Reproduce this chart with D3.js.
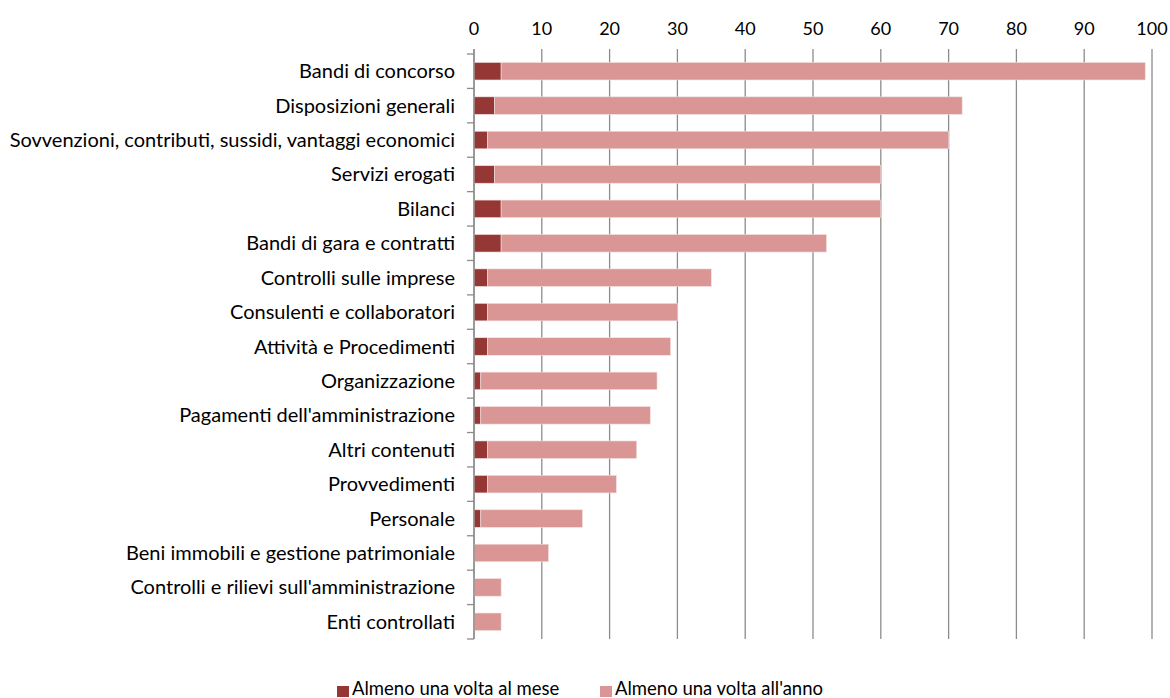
<!DOCTYPE html>
<html>
<head>
<meta charset="utf-8">
<title>Frequenza di aggiornamento</title>
<script src="https://d3js.org/d3.v7.min.js"></script>
<style>
  body { margin: 0; background: #fff; font-family: Lato, "Open Sans", sans-serif; }
  text { fill: #000; }
</style>
</head>
<body>
<script>
// categories, top to bottom
var categories = ["Bandi di concorso", "Disposizioni generali",
  "Sovvenzioni, contributi, sussidi, vantaggi economici", "Servizi erogati",
  "Bilanci", "Bandi di gara e contratti", "Controlli sulle imprese",
  "Consulenti e collaboratori", "Attività e Procedimenti", "Organizzazione",
  "Pagamenti dell'amministrazione", "Altri contenuti", "Provvedimenti",
  "Personale", "Beni immobili e gestione patrimoniale",
  "Controlli e rilievi sull'amministrazione", "Enti controllati"];

// series values
var mese = [4, 3, 2, 3, 4, 4, 2, 2, 2, 1, 1, 2, 2, 1, 0, 0, 0];
var anno = [95, 69, 68, 57, 56, 48, 33, 28, 27, 26, 25, 22, 19, 15, 11, 4, 4];

var seriesNames = ["Almeno una volta al mese", "Almeno una volta all'anno"];
var seriesColors = ["#953735", "#d99694"];
var xTicks = [0, 10, 20, 30, 40, 50, 60, 70, 80, 90, 100];

var width = 1170, height = 698;
var margin = {top: 54, right: 18, bottom: 59, left: 474};

var svg = d3.select("body").append("svg")
    .attr("width", width)
    .attr("height", height);

var x = d3.scaleLinear().domain([0, 100]).range([margin.left, width - margin.right]);
var y = d3.scaleBand().domain(categories).range([margin.top, height - margin.bottom]).paddingInner(0.49).paddingOuter(0.245);
var yOuter = d3.scaleBand().domain(categories).range([margin.top, height - margin.bottom]);

var rows = categories.map(function(c, i) {
  return {cat: c, mese: mese[i], anno: anno[i]};
});
var stacked = d3.stack().keys(["mese", "anno"])(rows);

// vertical gridlines + top ticks
svg.append("g")
  .selectAll("line")
  .data(xTicks)
  .enter().append("line")
  .attr("x1", function(d) { return x(d); })
  .attr("x2", function(d) { return x(d); })
  .attr("y1", margin.top - 5)
  .attr("y2", height - margin.bottom)
  .attr("stroke", "#8c8c8c")
  .attr("stroke-width", 1.3);

// top tick labels
svg.append("g")
  .selectAll("text")
  .data(xTicks)
  .enter().append("text")
  .attr("x", function(d) { return x(d); })
  .attr("y", 35)
  .attr("text-anchor", "middle")
  .style("font-size", "18px")
  .text(function(d) { return d; });

// bars
svg.append("g")
  .selectAll("g")
  .data(stacked)
  .enter().append("g")
  .attr("fill", function(d, i) { return seriesColors[i]; })
  .selectAll("rect")
  .data(function(d) { return d; })
  .enter().append("rect")
  .attr("x", function(d) { return x(d[0]); })
  .attr("width", function(d) { return x(d[1]) - x(d[0]); })
  .attr("y", function(d) { return y(d.data.cat); })
  .attr("height", y.bandwidth())
  .attr("stroke", "#f4e1e0")
  .attr("stroke-width", 0.6);

// category axis (left)
var yAxis = svg.append("g");
yAxis.append("line")
  .attr("x1", margin.left).attr("x2", margin.left)
  .attr("y1", margin.top - 5).attr("y2", height - margin.bottom)
  .attr("stroke", "#8c8c8c").attr("stroke-width", 1.3);
yAxis.selectAll(".tk")
  .data(categories.concat(["__end"]))
  .enter().append("line")
  .attr("class", "tk")
  .attr("x1", margin.left - 7).attr("x2", margin.left)
  .attr("y1", function(d, i) { return margin.top + i * yOuter.step(); })
  .attr("y2", function(d, i) { return margin.top + i * yOuter.step(); })
  .attr("stroke", "#8c8c8c").attr("stroke-width", 1.3);
yAxis.selectAll("text")
  .data(categories)
  .enter().append("text")
  .attr("x", margin.left - 19)
  .attr("y", function(d) { return yOuter(d) + yOuter.bandwidth() / 2; })
  .attr("dy", "0.35em")
  .attr("text-anchor", "end")
  .style("font-size", "20px")
  .text(function(d) { return d; });

// legend
var legendX = [337, 600];
var legend = svg.append("g");
seriesNames.forEach(function(name, i) {
  legend.append("rect")
    .attr("x", legendX[i]).attr("y", 686)
    .attr("width", 12).attr("height", 11)
    .attr("fill", seriesColors[i]);
  legend.append("text")
    .attr("x", legendX[i] + 15).attr("y", 695)
    .style("font-size", "18.5px")
    .text(name);
});
</script>
</body>
</html>
